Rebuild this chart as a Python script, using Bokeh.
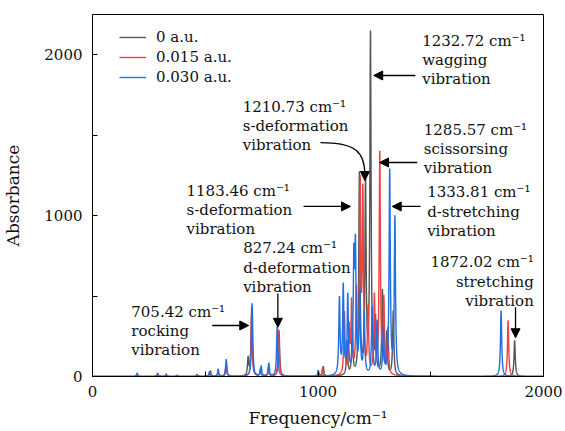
import numpy as np
from bokeh.plotting import figure
from bokeh.models import Range1d, FixedTicker, Legend, LegendItem, Arrow, NormalHead
from bokeh.embed import file_html
from bokeh.resources import INLINE
from bokeh.core.properties import value

# ---------------- data ----------------
series_labels = ["0 a.u.", "0.015 a.u.", "0.030 a.u."]
series_colors = ["#555555", "#f04040", "#1f6fe5"]

# peak positions (cm^-1) and peak heights for each field strength
peaks_0_freq = [198, 289, 327, 464, 523, 557, 593, 690, 705.42, 745, 781, 827.24,
                1005, 1023, 1129, 1152, 1183.46, 1210.73, 1232.72, 1255, 1285.57,
                1305, 1333.81, 1872.02]
peaks_0_int = [10, 15, 6, 12, 35, 20, 60, 110, 380, 35, 45, 280,
               15, 60, 210, 280, 1245, 1195, 2110, 330, 520,
               260, 400, 224]

peaks_015_freq = [198, 289, 327, 464, 520, 557, 593, 706, 745, 781, 826,
                  1001, 1020, 1117, 1138, 1149, 1170, 1187, 1199, 1222, 1250,
                  1274, 1292, 1310, 1843]
peaks_015_int = [10, 20, 6, 10, 30, 28, 85, 430, 45, 60, 290,
                 15, 45, 390, 280, 440, 500, 1150, 1100, 400, 480,
                 1373, 450, 280, 348]

peaks_030_freq = [198, 289, 327, 375, 464, 518, 557, 593, 708, 748, 782, 819,
                  1001, 1095, 1112, 1132, 1159, 1166, 1185, 1205, 1240, 1262,
                  1290, 1318, 1341, 1812]
peaks_030_int = [20, 18, 15, 8, 8, 25, 45, 105, 453, 62, 80, 306,
                 35, 472, 548, 484, 679, 741, 500, 380, 420, 330,
                 280, 1267, 975, 410]

x_ticks = [0, 500, 1000, 1500, 2000]
y_ticks = [0, 500, 1000, 1500, 2000]
hidden_ticks = [500, 1500]

# annotation texts: (lines, x, first baseline y, align)
annotations = [
    (["1232.72 cm\u207b\u00b9", "wagging", "vibration"], 1462, 2088, "left"),
    (["1210.73 cm\u207b\u00b9", "s-deformation", "vibration"], 666, 1678, "left"),
    (["1285.57 cm\u207b\u00b9", "scissorsing", "vibration"], 1469, 1535, "left"),
    (["1333.81 cm\u207b\u00b9", "d-stretching", "vibration"], 1484, 1144, "left"),
    (["1183.46 cm\u207b\u00b9", "s-deformation", "vibration"], 417, 1156, "left"),
    (["827.24 cm\u207b\u00b9", "d-deformation", "vibration"], 668, 796, "left"),
    (["705.42 cm\u207b\u00b9", "rocking", "vibration"], 172, 404, "left"),
    (["1872.02 cm\u207b\u00b9", "stretching", "vibration"], 1957, 709, "right"),
]
line_step = 121  # data units between text lines

# straight arrows: (x_start, y_start, x_end, y_end)
arrows = [
    (1432, 1871, 1247, 1871),
    (1440, 1330, 1273, 1330),
    (1455, 1057, 1329, 1057),
    (936, 1057, 1144, 1057),
    (822, 516, 822, 306),
    (531, 317, 693, 317),
    (1876, 431, 1876, 241),
]

# ---------------- spectra (Lorentzian broadening of the peak lists) ----------------
hwhm = 3.2
freq = np.arange(0, 2000.001, 0.25)


def spectrum(f0, a0):
    f0 = np.asarray(f0, dtype=float)[:, None]
    a0 = np.asarray(a0, dtype=float)[:, None]
    return (a0 * hwhm**2 / ((freq[None, :] - f0) ** 2 + hwhm**2)).sum(axis=0)


spectra = [
    spectrum(peaks_0_freq, peaks_0_int),
    spectrum(peaks_015_freq, peaks_015_int),
    spectrum(peaks_030_freq, peaks_030_int),
]

FONT = "DejaVu Serif"

p = figure(width=565, height=431, output_backend="svg", toolbar_location=None,
           x_range=Range1d(0, 2000), y_range=Range1d(0, 2250),
           min_border_left=92, min_border_right=22, min_border_top=14, min_border_bottom=55)

p.grid.visible = False
p.outline_line_color = "black"
p.outline_line_width = 1
p.background_fill_color = "white"
p.border_fill_color = "white"

renderers = []
for spec, col in zip(spectra, series_colors):
    r = p.line(freq, spec, line_color=col, line_width=1.4)
    renderers.append(r)

for ax, ticks in ((p.xaxis[0], x_ticks), (p.yaxis[0], y_ticks)):
    ax.ticker = FixedTicker(ticks=ticks)
    ax.major_label_overrides = {t: "" for t in hidden_ticks}
    ax.major_tick_in = 5
    ax.major_tick_out = 0
    ax.minor_tick_line_color = None
    ax.axis_line_color = "black"
    ax.major_tick_line_color = "black"
    ax.major_label_text_font = FONT
    ax.major_label_text_font_size = "15px"
    ax.major_label_text_color = "#111111"
    ax.axis_label_text_font = FONT
    ax.axis_label_text_font_size = "17px"
    ax.axis_label_text_font_style = "normal"
    ax.axis_label_text_color = "#111111"

p.xaxis.axis_label = "Frequency/cm\u207b\u00b9"
p.yaxis.axis_label = "Absorbance"
p.xaxis.major_label_standoff = 9
p.xaxis.axis_label_standoff = 8
p.yaxis.major_label_standoff = 10
p.yaxis.axis_label_standoff = 18

# annotation text
tx, ty, tt, ta = [], [], [], []
for lines, x0, y0, align in annotations:
    for i, s in enumerate(lines):
        tx.append(x0)
        ty.append(y0 - i * line_step)
        tt.append(s)
        ta.append(align)
for align in ("left", "right"):
    idx = [i for i, a in enumerate(ta) if a == align]
    p.text(x=[tx[i] for i in idx], y=[ty[i] for i in idx], text=[tt[i] for i in idx],
           text_font=value(FONT), text_font_size="15px", text_align=align,
           text_baseline="alphabetic", text_color="#111111")

# arrows
for xs, ys, xe, ye in arrows:
    p.add_layout(Arrow(end=NormalHead(size=9, fill_color="black", line_color="black", line_width=1),
                       x_start=xs, y_start=ys, x_end=xe, y_end=ye,
                       line_color="black", line_width=1.3))

# curved arrow for 1210.73
p.bezier(x0=[1011], y0=[1454], x1=[1208], y1=[1250], cx0=[1165], cy0=[1454],
         cx1=[1208], cy1=[1400], line_color="black", line_width=1.3)
p.add_layout(Arrow(end=NormalHead(size=9, fill_color="black", line_color="black", line_width=1),
                   x_start=1208, y_start=1260, x_end=1208, y_end=1218,
                   line_color="black", line_width=1.3))

legend = Legend(items=[LegendItem(label=l, renderers=[r]) for l, r in zip(series_labels, renderers)],
                location=(27, 289), padding=0, margin=0, spacing=0,
                glyph_width=27, glyph_height=20, label_height=20, label_standoff=10,
                border_line_color=None, background_fill_alpha=0,
                label_text_font=FONT, label_text_font_size="15px", label_text_color="#111111")
p.add_layout(legend)

open("out.html", "w").write(file_html(p, INLINE))
